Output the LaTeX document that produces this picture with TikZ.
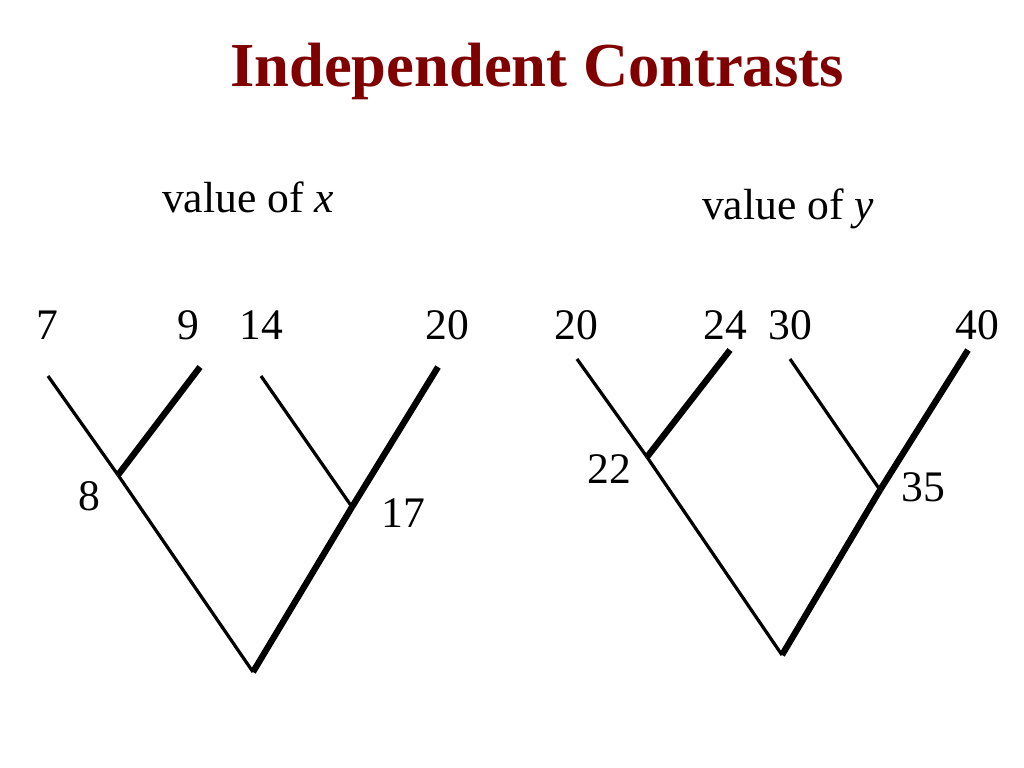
\documentclass[tikz,border=0pt]{standalone}
\usepackage{fontspec}
\setmainfont{Liberation Serif}
\usetikzlibrary{positioning}
\definecolor{titlered}{RGB}{128,0,0}

\begin{document}
\begin{tikzpicture}[x=0.025cm,y=-0.025cm,
  val/.style={anchor=base,inner sep=0pt,font=\fontsize{31}{36}\selectfont},
  thin/.style={line width=2.3pt},
  thick/.style={line width=4.5pt}
]
\useasboundingbox (0,0) rectangle (1024,768);
\node[anchor=base,inner sep=0pt,text=titlered,font=\fontsize{44.5}{54}\selectfont\bfseries]
  (title) at (537,87) {Independent Contrasts};

% arbre de x
\node[val] (hx) at (248,212) {value of \textit{x}};
\node[val] (x7)  at (47,339)  {7};
\node[val] (x9)  at (188,339) {9};
\node[val] (x14) at (261,339) {14};
\node[val] (x20) at (447,339) {20};
\node[val] (x8)  at (89,510)  {8};
\node[val] (x17) at (403,527) {17};

\coordinate (ta) at (48,376);
\coordinate (tb) at (200,367);
\coordinate (tc) at (261,376);
\coordinate (td) at (438,367);
\coordinate (nab) at (118,475);
\coordinate (ncd) at (352,507);
\coordinate (rx) at (253,672);

\draw[thin]  (ta)--(nab);
\draw[thick] (tb)--(nab);
\draw[thin]  (nab)--(rx);
\draw[thin]  (tc)--(ncd);
\draw[thick] (td)--(ncd);
\draw[thick] (ncd)--(rx);

% arbre de y
\node[val] (hy) at (788,219) {value of \textit{y}};
\node[val] (y20) at (576,339) {20};
\node[val] (y24) at (725,339) {24};
\node[val] (y30) at (790,339) {30};
\node[val] (y40) at (977,339) {40};
\node[val] (y22) at (609,483) {22};
\node[val] (y35) at (923,501) {35};

\coordinate (ua) at (577,359);
\coordinate (ub) at (730,350);
\coordinate (uc) at (790,359);
\coordinate (ud) at (968,350);
\coordinate (mab) at (647,457);
\coordinate (mcd) at (880,490);
\coordinate (ry) at (782,655);

\draw[thin]  (ua)--(mab);
\draw[thick] (ub)--(mab);
\draw[thin]  (mab)--(ry);
\draw[thin]  (uc)--(mcd);
\draw[thick] (ud)--(mcd);
\draw[thick] (mcd)--(ry);
\end{tikzpicture}
\end{document}
